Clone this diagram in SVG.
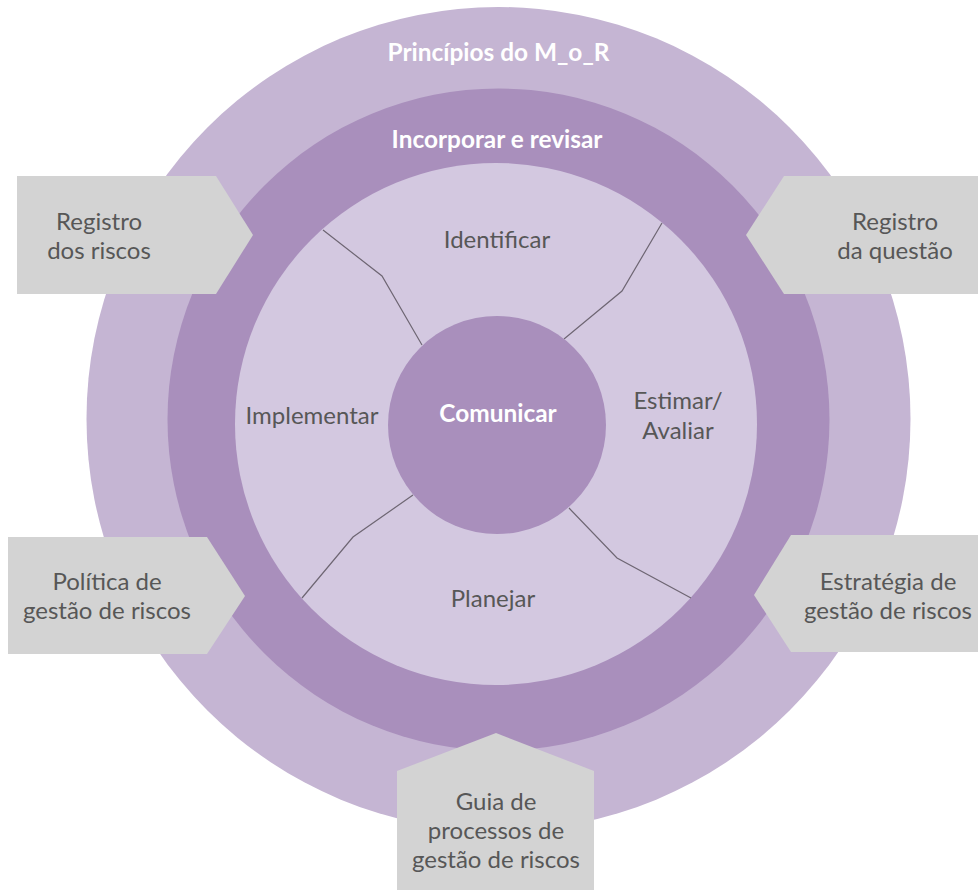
<svg xmlns="http://www.w3.org/2000/svg" width="978" height="890" viewBox="0 0 978 890">
<style>
.ring1{fill:#c5b5d3}
.ring2{fill:#a98fbc}
.inner{fill:#d3c8e0}
.core{fill:#a98fbc}
.box{fill:#d3d3d3}
.div{fill:none;stroke:#6e6673;stroke-width:1.2}
.lbl{font-family:Lato,"Open Sans",sans-serif;font-size:24px;fill:#575757;text-anchor:middle}
.wlbl{font-family:Lato,"Open Sans",sans-serif;font-size:24.4px;font-weight:bold;fill:#ffffff;text-anchor:middle}
</style>
<rect width="978" height="890" fill="#ffffff"/>
<g id="principios">
<circle class="ring1" cx="498.5" cy="419" r="412"/>
<text class="wlbl" x="498.5" y="61">Princípios do M_o_R</text>
</g>
<g id="incorporar">
<circle class="ring2" cx="498.5" cy="419.5" r="331"/>
<text class="wlbl" x="497" y="148">Incorporar e revisar</text>
</g>
<g id="processo">
<circle class="inner" cx="496" cy="424" r="261"/>
</g>
<g id="connectors">
<polyline class="div" points="323,230 382,276 422,345"/>
<polyline class="div" points="662,223 622,291 564,339"/>
<polyline class="div" points="413,495 353,537 302,598"/>
<polyline class="div" points="569,508 617,558 691,598"/>
</g>
<g id="identificar"><text class="lbl" x="497" y="248">Identificar</text></g>
<g id="estimar"><text class="lbl" x="678" y="409">Estimar/</text><text class="lbl" x="678" y="439">Avaliar</text></g>
<g id="planejar"><text class="lbl" x="493" y="607">Planejar</text></g>
<g id="implementar"><text class="lbl" x="312" y="424">Implementar</text></g>
<g id="comunicar">
<circle class="core" cx="497" cy="425" r="109"/>
<text class="wlbl" x="498" y="422">Comunicar</text>
</g>
<g id="registro-riscos">
<polygon class="box" points="17,176 216,176 253,235 216,294 17,294"/>
<text class="lbl" x="99" y="230">Registro</text>
<text class="lbl" x="99" y="259">dos riscos</text>
</g>
<g id="registro-questao">
<polygon class="box" points="784,176 978,176 978,294 784,294 746,235"/>
<text class="lbl" x="895" y="230">Registro</text>
<text class="lbl" x="895" y="259">da questão</text>
</g>
<g id="politica">
<polygon class="box" points="8,537 207,537 245,596 207,654 8,654"/>
<text class="lbl" x="107" y="590">Política de</text>
<text class="lbl" x="107" y="619">gestão de riscos</text>
</g>
<g id="estrategia">
<polygon class="box" points="791,535 978,535 978,652 791,652 754,595"/>
<text class="lbl" x="888" y="590">Estratégia de</text>
<text class="lbl" x="888" y="619">gestão de riscos</text>
</g>
<g id="guia">
<polygon class="box" points="496,733 594,771 594,890 397,890 397,771"/>
<text class="lbl" x="496" y="810">Guia de</text>
<text class="lbl" x="496" y="839">processos de</text>
<text class="lbl" x="496" y="868">gestão de riscos</text>
</g>
</svg>
